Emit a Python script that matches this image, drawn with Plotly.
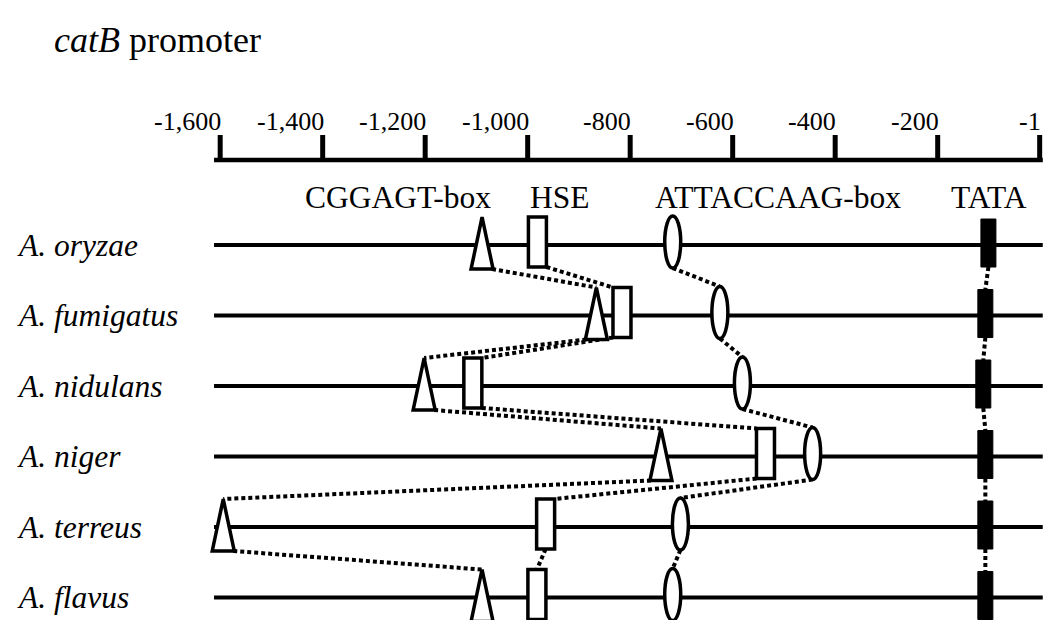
import plotly.graph_objects as go

# ---------------- data ----------------
SPECIES = ["A. oryzae", "A. fumigatus", "A. nidulans", "A. niger", "A. terreus", "A. flavus"]
CGGAGT_BOX = [-1089, -866, -1202, -740, -1594, -1089]
HSE = [-981, -816, -1107, -536, -965, -982]
ATTACCAAG_BOX = [-717, -625, -581, -444, -702, -717]
TATA = [-101, -107, -111, -107, -107, -107]
FEATURE_NAMES = ["CGGAGT-box", "HSE", "ATTACCAAG-box", "TATA"]
TICK_VALUES = [-1600, -1400, -1200, -1000, -800, -600, -400, -200, -1]
TICK_LABELS = ["-1,600", "-1,400", "-1,200", "-1,000", "-800", "-600", "-400", "-200", "-1"]
LINE_START, LINE_END = -1612, 5
TITLE = "<i>catB</i> promoter"

# ---------------- layout constants ----------------
PAGE_MARGIN = 8                      # default body margin of the html page
W, H = 1051 - PAGE_MARGIN, 620 - PAGE_MARGIN
X_RANGE = [-2014.0, 21.1]
Y_RANGE = [5.319, -3.362]            # reversed: rows go downward
PX_X = W / (X_RANGE[1] - X_RANGE[0])
PX_Y = H / (Y_RANGE[0] - Y_RANGE[1])
FONT = "Liberation Serif, Times New Roman, serif"


def dx(p):
    return p / PX_X


def dy(p):  # positive = downward
    return p / PX_Y


def y_at(px):  # page pixel row -> y data value
    return Y_RANGE[1] + (px - PAGE_MARGIN) / PX_Y


rows = list(range(len(SPECIES)))
AXIS_Y = y_at(160)
TICK_LEN = 25
LABEL_Y = y_at(197)
TICKLABEL_Y = y_at(121)

fig = go.Figure()

# promoter lines
lx, ly = [], []
for r in rows:
    lx += [LINE_START, LINE_END, None]
    ly += [r, r, None]
fig.add_trace(go.Scatter(x=lx, y=ly, mode="lines", line=dict(color="black", width=4),
                         hoverinfo="skip"))

# scale axis line + ticks
fig.add_trace(go.Scatter(x=[LINE_START, LINE_END], y=[AXIS_Y, AXIS_Y], mode="lines",
                         line=dict(color="black", width=4.5), hoverinfo="skip"))
tx, ty = [], []
for t in TICK_VALUES:
    tx += [t, t, None]
    ty += [AXIS_Y + dy(2), AXIS_Y - dy(TICK_LEN), None]
fig.add_trace(go.Scatter(x=tx, y=ty, mode="lines", line=dict(color="black", width=5),
                         hoverinfo="skip"))

# feature geometry (pixels): half width, top (up), bottom (down)
GEOM = {
    "tri": dict(hw=11, top=28, bot=24),
    "rect": dict(hw=9, top=28, bot=22),
    "ell": dict(hw=8, top=29, bot=23),
    "tata": dict(hw=7.5, top=26, bot=22),
}
FEATURES = [(CGGAGT_BOX, "tri"), (HSE, "rect"), (ATTACCAAG_BOX, "ell"), (TATA, "tata")]

# dotted connectors
for vals, kind in FEATURES:
    g = GEOM[kind]
    cx, cy = [], []
    for i in range(len(vals) - 1):
        x_up, x_lo = vals[i], vals[i + 1]
        dpx = (x_lo - x_up) * PX_X
        s = 0 if abs(dpx) < 40 else (1 if dpx > 0 else -1)
        if kind == "tri":
            x0 = x_up + s * dx(g["hw"] - 1)
            x1 = x_lo
        elif kind == "rect":
            x0 = x_up + s * dx(g["hw"])
            x1 = x_lo - s * dx(g["hw"])
        else:
            x0, x1 = x_up, x_lo
        cx += [x0, x1, None]
        cy += [rows[i] + dy(g["bot"]), rows[i + 1] - dy(g["top"]), None]
    fig.add_trace(go.Scatter(x=cx, y=cy, mode="lines",
                             line=dict(color="black", width=4, dash="4px,3px"),
                             hoverinfo="skip"))

# marker shapes
shapes = []
for vals, kind in FEATURES:
    g = GEOM[kind]
    for r, v in zip(rows, vals):
        base = dict(xref="x", yref="y", xsizemode="pixel", ysizemode="pixel",
                    xanchor=v, yanchor=r, line=dict(color="black", width=3.5),
                    fillcolor="white", layer="above")
        if kind == "tri":
            base.update(type="path",
                        path=f"M0,{g['top']} L{g['hw']},{-g['bot']} L{-g['hw']},{-g['bot']} Z")
        elif kind == "rect":
            base.update(type="rect", x0=-g["hw"], x1=g["hw"], y0=-g["bot"], y1=g["top"])
        elif kind == "ell":
            base.update(type="circle", x0=-g["hw"], x1=g["hw"], y0=-g["bot"], y1=g["top"])
        else:
            base.update(type="rect", x0=-g["hw"], x1=g["hw"], y0=-g["bot"], y1=g["top"],
                        fillcolor="black", line=dict(color="black", width=1))
        shapes.append(base)

annotations = []
# tick labels (right-aligned on the ticks)
for t, lab in zip(TICK_VALUES, TICK_LABELS):
    annotations.append(dict(x=t, y=TICKLABEL_Y, xref="x", yref="y", text=lab, showarrow=False,
                            xanchor="right", yanchor="middle", xshift=3,
                            font=dict(family=FONT, size=26, color="black")))
# feature labels
label_pos = [(-1068, "right"), (-1000, "left"), (-755, "left"), (-100, "center")]
for name, (xp, anc) in zip(FEATURE_NAMES, label_pos):
    annotations.append(dict(x=xp, y=LABEL_Y, xref="x", yref="y", text=name, showarrow=False,
                            xanchor=anc, yanchor="middle",
                            font=dict(family=FONT, size=31.5, color="black")))
# species labels
for r, sp in zip(rows, SPECIES):
    annotations.append(dict(x=(15 - PAGE_MARGIN) / W, y=r, xref="paper", yref="y",
                            text=f"<i>{sp}</i>", showarrow=False, xanchor="left",
                            yanchor="middle",
                            font=dict(family=FONT, size=31.5, color="black")))
# title
annotations.append(dict(x=(52 - PAGE_MARGIN) / W, y=1 - (40 - PAGE_MARGIN) / H,
                        xref="paper", yref="paper", text=TITLE,
                        showarrow=False, xanchor="left", yanchor="middle",
                        font=dict(family=FONT, size=36, color="black")))

fig.update_layout(
    width=W, height=H, margin=dict(l=0, r=0, t=0, b=0),
    paper_bgcolor="white", plot_bgcolor="white", showlegend=False,
    xaxis=dict(range=X_RANGE, visible=False, fixedrange=True),
    yaxis=dict(range=Y_RANGE, visible=False, fixedrange=True),
    shapes=shapes, annotations=annotations,
)

fig.write_html("out.html")
